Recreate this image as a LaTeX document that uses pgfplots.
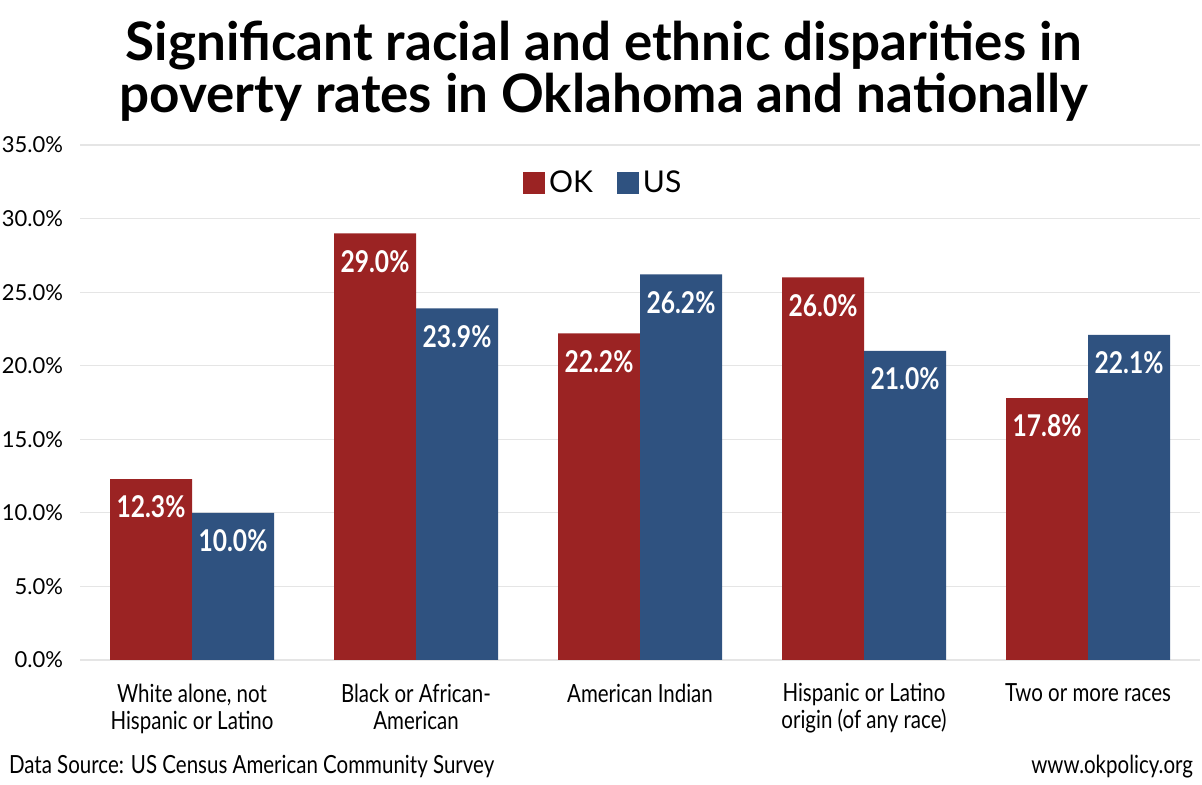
\documentclass[border=0pt]{standalone}
\usepackage{pgfplots}
\pgfplotsset{compat=1.18}
\usepackage{fontspec}
\setmainfont{Lato}
\newfontfamily\condf[FakeStretch=0.82]{Lato}
\definecolor{okred}{RGB}{155,35,35}
\definecolor{usblue}{RGB}{47,82,128}
\begin{document}
\begin{tikzpicture}
\path[use as bounding box] (0,0) rectangle (601pt,392.5pt);
\node[font=\bfseries\fontsize{26.5}{26}\selectfont, align=center] at (302pt,357pt)
  {Significant racial and ethnic disparities in\\poverty rates in Oklahoma and nationally};
\begin{axis}[
  at={(40pt,62.5pt)}, anchor=south west,
  width=560pt, height=257.5pt, scale only axis,
  xmin=-0.5, xmax=4.5, ymin=0, ymax=35,
  ytick={0,5,...,35},
  /pgf/number format/assume math mode=true,
  yticklabel={\pgfmathprintnumber[fixed,fixed zerofill,precision=1]{\tick}\%},
  yticklabel style={font=\fontsize{11}{13}\selectfont, xshift=-5pt},
  ymajorgrids, grid style={draw=black!10, line width=0.6pt},
  axis line style={draw=none}, tick style={draw=none},
  xtick={0,1,2,3,4},
  xticklabels={{White alone, not\\Hispanic or Latino},{Black or African-\\American},{American Indian},{Hispanic or Latino\\origin (of any race)},{Two or more races}},
  xticklabel style={align=center, font=\condf\fontsize{12.5}{13.5}\selectfont, yshift=-4pt},
  ybar=0pt, bar width=41pt,
  clip=false,
  nodes near coords={\pgfmathprintnumber[fixed,fixed zerofill,precision=1]{\pgfplotspointmeta}\%},
  every node near coord/.append style={anchor=center, yshift=-14pt, text=white, font=\condf\bfseries\fontsize{15}{17}\selectfont},
  legend style={at={(0.468,0.926)}, anchor=center, draw=none, fill=none, legend columns=2,
    font=\fontsize{15}{17}\selectfont,
    /tikz/every even column/.append style={column sep=10pt}},
  legend image code/.code={\fill[#1] (0pt,-5.5pt) rectangle (11pt,5.5pt);},
]
\addplot[fill=okred, draw=none] coordinates {(0,12.3) (1,29.0) (2,22.2) (3,26.0) (4,17.8)};
\addplot[fill=usblue, draw=none] coordinates {(0,10.0) (1,23.9) (2,26.2) (3,21.0) (4,22.1)};
\legend{OK,US}
\end{axis}
\node[anchor=west, font=\condf\fontsize{12.5}{14}\selectfont] at (1pt,9pt) {Data Source: US Census American Community Survey};
\node[anchor=east, font=\condf\fontsize{12.5}{14}\selectfont] at (600pt,9pt) {www.okpolicy.org};
\end{tikzpicture}
\end{document}
